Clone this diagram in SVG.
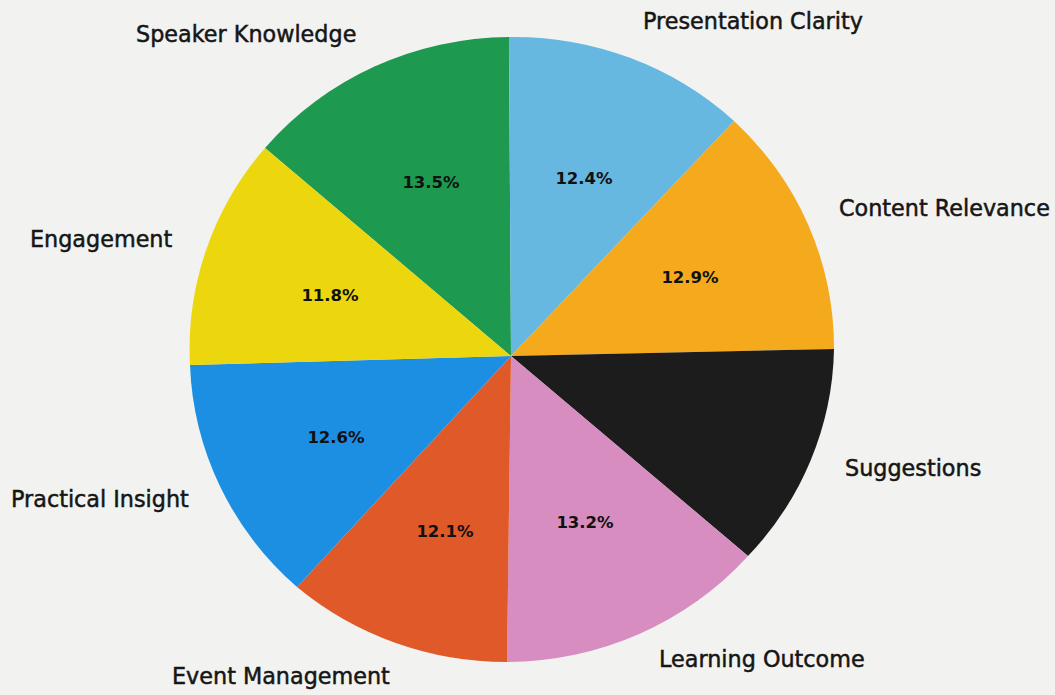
<svg xmlns="http://www.w3.org/2000/svg" width="1055" height="695" viewBox="0 0 1055 695">
<style>
.lbl{font-family:"DejaVu Sans","Liberation Sans",sans-serif;font-size:22.3px;fill:#161616;stroke:#161616;stroke-width:0.5}
.pct{font-family:"DejaVu Sans","Liberation Sans",sans-serif;font-size:16.5px;font-weight:bold;fill:#111;text-anchor:middle}
</style>
<rect width="1055" height="695" fill="#f2f2f1"/>
<g id="slices">
<g id="speaker-knowledge"><path d="M511 356 L265 148 A322.5 312.5 0 0 1 509 37 Z" fill="#1d9a50"/></g>
<g id="presentation-clarity"><path d="M511 356 L509 37 A322.5 312.5 0 0 1 734 121 Z" fill="#66b8e1"/></g>
<g id="content-relevance"><path d="M511 356 L734 121 A322.5 312.5 0 0 1 834 349 Z" fill="#f4aa1c"/></g>
<g id="suggestions"><path d="M511 356 L834 349 A322.5 312.5 0 0 1 748 556 Z" fill="#1c1c1c"/></g>
<g id="learning-outcome"><path d="M511 356 L748 556 A322.5 312.5 0 0 1 507 662 Z" fill="#d78dbf"/></g>
<g id="event-management"><path d="M511 356 L507 662 A322.5 312.5 0 0 1 297 587 Z" fill="#e05a29"/></g>
<g id="practical-insight"><path d="M511 356 L297 587 A322.5 312.5 0 0 1 190 365 Z" fill="#1c8fe2"/></g>
<g id="engagement"><path d="M511 356 L190 365 A322.5 312.5 0 0 1 265 148 Z" fill="#ecd70e"/></g>
</g>
<g id="percentages">
<text class="pct" x="431" y="188">13.5%</text>
<text class="pct" x="584" y="184">12.4%</text>
<text class="pct" x="690" y="283">12.9%</text>
<text class="pct" x="330" y="301">11.8%</text>
<text class="pct" x="336" y="443">12.6%</text>
<text class="pct" x="445" y="537">12.1%</text>
<text class="pct" x="585" y="528">13.2%</text>
</g>
<g id="labels">
<text class="lbl" x="136" y="42">Speaker Knowledge</text>
<text class="lbl" x="643" y="29">Presentation Clarity</text>
<text class="lbl" x="839" y="216">Content Relevance</text>
<text class="lbl" x="30" y="247">Engagement</text>
<text class="lbl" x="845" y="476">Suggestions</text>
<text class="lbl" x="11" y="507">Practical Insight</text>
<text class="lbl" x="659" y="667">Learning Outcome</text>
<text class="lbl" x="172" y="684">Event Management</text>
</g>
</svg>
